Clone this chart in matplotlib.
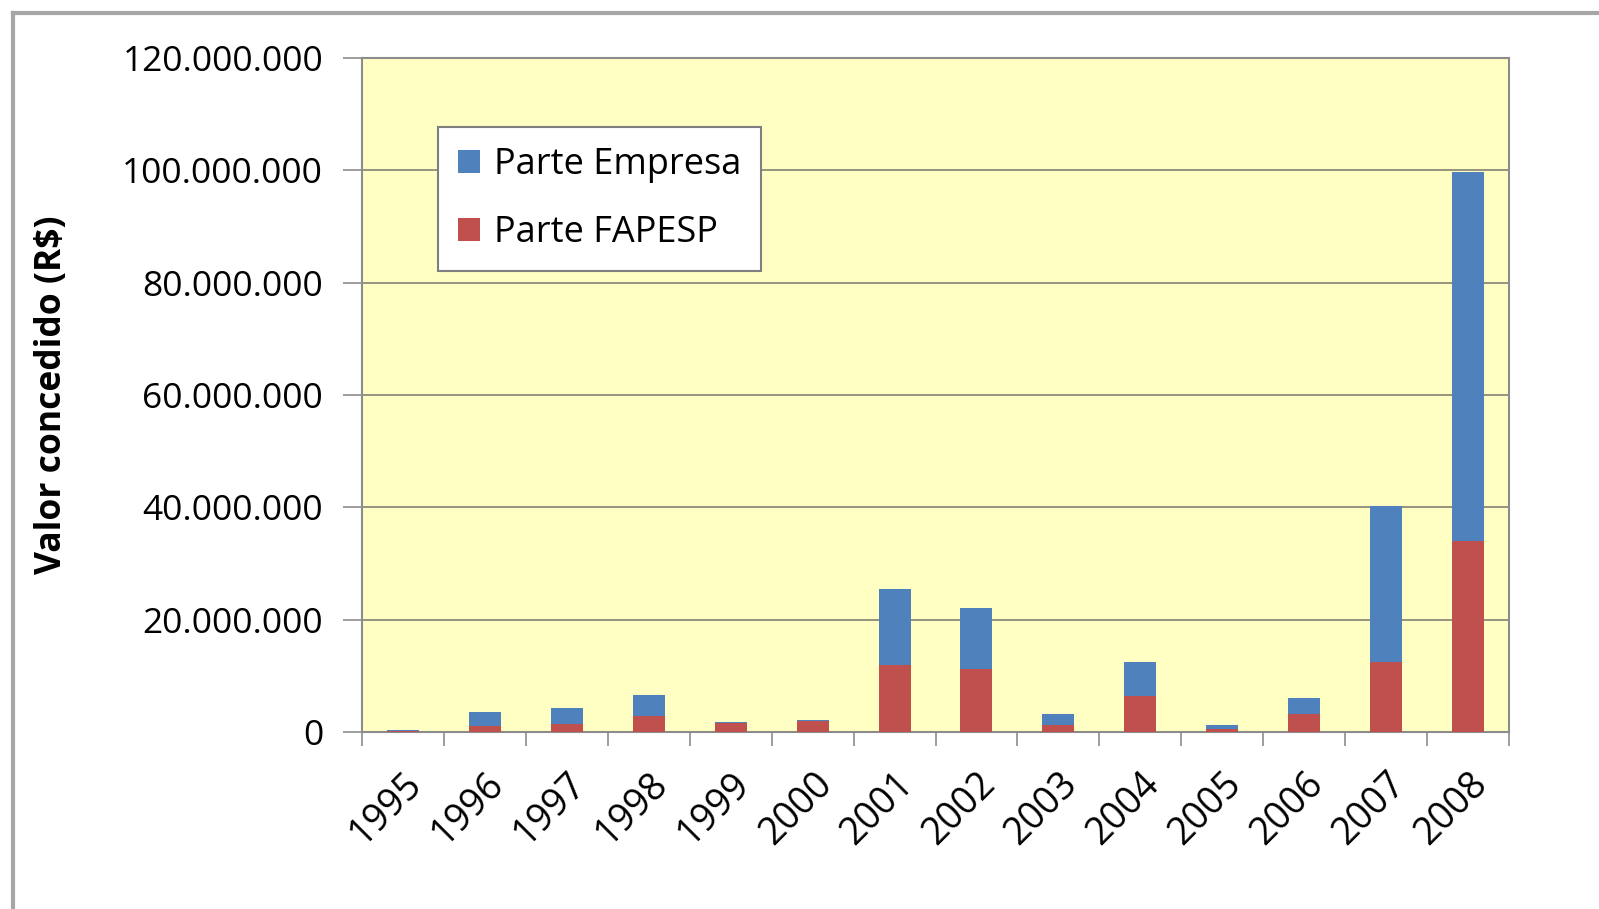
import matplotlib
matplotlib.use("Agg")
import matplotlib.pyplot as plt
from matplotlib.ticker import FuncFormatter, FixedLocator
from matplotlib.lines import Line2D
import numpy as np

# Valor concedido por ano (R$ milhões)
anos = ["1995", "1996", "1997", "1998", "1999", "2000", "2001",
        "2002", "2003", "2004", "2005", "2006", "2007", "2008"]
parte_fapesp = [0.2, 1.1, 1.4, 2.8, 1.6, 1.9, 11.9,
                11.2, 1.2, 6.4, 0.6, 3.2, 12.5, 34.0]
parte_empresa = [0.2, 2.5, 2.9, 3.7, 0.2, 0.3, 13.5,
                 10.8, 2.0, 6.1, 0.6, 2.8, 27.7, 65.7]

plt.rcParams["font.family"] = ["Open Sans", "DejaVu Sans"]
FS = 25.5

fig = plt.figure(figsize=(15.99, 9.09), dpi=100)
fig.patch.set_facecolor("white")

# moldura da área do gráfico (esquerda e topo)
fig.add_artist(Line2D([13 / 1599, 13 / 1599], [0, 1 - 13 / 909],
                      transform=fig.transFigure, color="#a6a6a6", lw=3))
fig.add_artist(Line2D([13 / 1599, 1], [1 - 13 / 909, 1 - 13 / 909],
                      transform=fig.transFigure, color="#a6a6a6", lw=3))

ax = fig.add_axes([362 / 1599, 1 - 732 / 909, (1509 - 362) / 1599, (732 - 58) / 909])
ax.set_facecolor("#ffffc4")

x = np.arange(len(anos))
fapesp = np.array(parte_fapesp) * 1e6
empresa = np.array(parte_empresa) * 1e6
w = 0.39
ax.bar(x, empresa, w, bottom=fapesp, color="#4f81bd", label="Parte Empresa", zorder=3)
ax.bar(x, fapesp, w, color="#c0504d", label="Parte FAPESP", zorder=3)

ax.set_xlim(-0.5, len(anos) - 0.5)
ax.set_ylim(0, 120e6)
ax.set_yticks(np.arange(0, 121e6, 20e6))
ax.yaxis.set_major_formatter(FuncFormatter(lambda v, p: f"{int(v):,}".replace(",", ".")))
ax.grid(axis="y", color="#8c8c78", lw=1.3, zorder=1)

ax.set_xticks(x)
ax.set_xticklabels(anos, rotation=45, ha="right", rotation_mode="anchor")
ax.xaxis.set_minor_locator(FixedLocator(np.arange(-0.5, len(anos), 1.0)))
ax.tick_params(axis="x", which="major", length=0, pad=24, labelsize=27)
ax.tick_params(axis="x", which="minor", length=10, width=1.2, color="#8c8c8c")
ax.tick_params(axis="y", which="major", length=14, width=1.2, color="#8c8c8c",
               labelsize=FS, pad=14)

for s in ax.spines.values():
    s.set_color("#8c8c8c")
    s.set_linewidth(1.5)

ax.set_ylabel("Valor concedido (R$)", fontsize=FS, fontweight="bold")
ax.yaxis.set_label_coords((70 - 362) / (1509 - 362), 0.5)

leg = ax.legend(loc="upper left", bbox_to_anchor=((438 - 362) / 1147, 1 - (127 - 58) / 674),
                borderaxespad=0, fontsize=26, frameon=True, fancybox=False,
                edgecolor="#7f7f7f", handlelength=0.6, handleheight=0.6,
                handletextpad=0.4, labelspacing=0.9, borderpad=0.55)
leg.get_frame().set_linewidth(1.5)
leg.get_frame().set_facecolor("white")
leg.get_frame().set_alpha(1)

fig.savefig("out.png", dpi=100)
